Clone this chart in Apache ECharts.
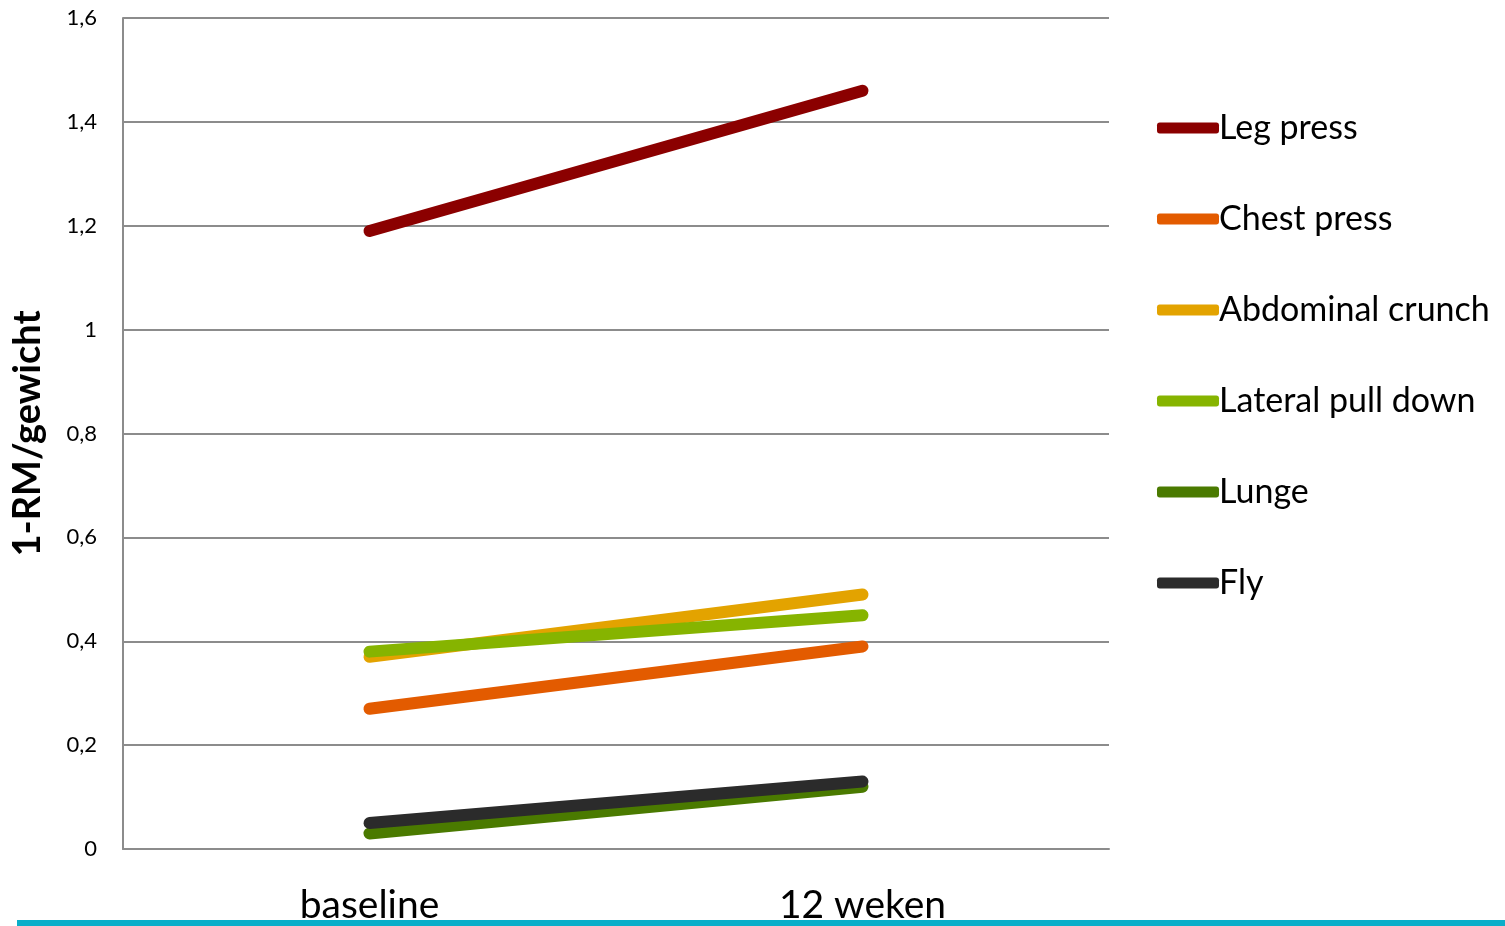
<!DOCTYPE html>
<html>
<head>
<meta charset="utf-8">
<script src="https://cdn.jsdelivr.net/npm/echarts@6/dist/echarts.min.js"></script>
<style>
html,body{margin:0;padding:0;background:#fff;}
#chart{width:1505px;height:926px;}
</style>
</head>
<body>
<div id="chart"></div>
<script>
const categories = ['baseline', '12 weken'];
const seriesNames = ['Leg press', 'Chest press', 'Abdominal crunch', 'Lateral pull down', 'Lunge', 'Fly'];
const legPress = [1.19, 1.46];
const chestPress = [0.27, 0.39];
const abdominalCrunch = [0.37, 0.49];
const lateralPullDown = [0.38, 0.45];
const lunge = [0.03, 0.12];
const fly = [0.05, 0.13];
const seriesColors = ['#8B0000', '#E35B00', '#E3A300', '#86B400', '#4A7A00', '#2B2B2B'];
const yTicks = { min: 0, max: 1.6, interval: 0.2 };

const values = [legPress, chestPress, abdominalCrunch, lateralPullDown, lunge, fly];
const FONT = 'Lato';

const chart = echarts.init(document.getElementById('chart'), null, { renderer: 'canvas' });
chart.setOption({
  animation: false,
  backgroundColor: '#fff',
  grid: { left: 123, right: 396, top: 18, bottom: 77, containLabel: false },
  legend: {
    orient: 'vertical',
    left: 1152,
    top: 103,
    icon: 'roundRect',
    itemWidth: 62,
    itemHeight: 11,
    itemGap: 51,
    data: seriesNames,
    textStyle: { fontFamily: FONT, fontSize: 34, color: '#000', lineHeight: 40, padding: [0, 0, 0, -5] }
  },
  xAxis: {
    type: 'category',
    data: categories,
    boundaryGap: true,
    axisLine: { show: true, lineStyle: { color: '#8c8c8c', width: 2 } },
    axisTick: { show: false },
    axisLabel: { fontFamily: FONT, fontSize: 39, color: '#000', margin: 37 }
  },
  yAxis: {
    type: 'value',
    min: yTicks.min,
    max: yTicks.max,
    interval: yTicks.interval,
    name: '1-RM/gewicht',
    nameLocation: 'middle',
    nameGap: 76,
    nameTextStyle: { fontFamily: FONT, fontSize: 38, fontWeight: 'bold', color: '#000' },
    axisLine: { show: true, lineStyle: { color: '#8c8c8c', width: 2 } },
    axisTick: { show: false },
    splitLine: { show: true, lineStyle: { color: '#8c8c8c', width: 2 } },
    axisLabel: {
      fontFamily: FONT, fontSize: 22, color: '#000', margin: 26,
      formatter: v => String(parseFloat(v.toFixed(1))).replace('.', ',')
    }
  },
  series: seriesNames.map((name, i) => ({
    name: name,
    type: 'line',
    data: values[i],
    symbol: 'none',
    color: seriesColors[i],
    lineStyle: { width: 12, color: seriesColors[i], cap: 'round' }
  })),
  graphic: [{
    type: 'rect',
    left: 17,
    top: 920,
    shape: { width: 1488, height: 6 },
    style: { fill: '#0AAEC9' },
    silent: true
  }]
});
</script>
</body>
</html>
